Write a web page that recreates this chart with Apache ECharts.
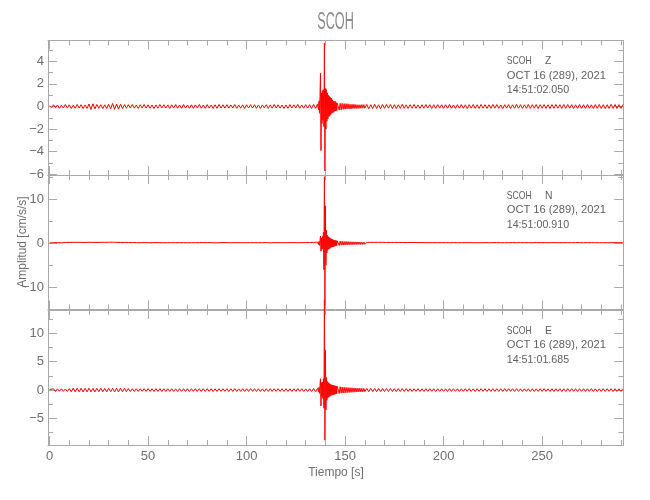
<!DOCTYPE html>
<html><head><meta charset="utf-8">
<script src="https://cdn.jsdelivr.net/npm/echarts@6/dist/echarts.min.js"></script>
<style>html,body{margin:0;padding:0;background:#fff}#c{width:650px;height:500px}</style>
</head><body><div id="c"></div>
<script>
// ---------------- DATA ----------------
const station = 'SCOH';
const components = ['Z', 'N', 'E'];
const dateLabel = 'OCT 16 (289), 2021';
const startTimes = ['14:51:02.050', '14:51:00.910', '14:51:01.685'];
const xLabel = 'Tiempo [s]';
const yLabel = 'Amplitud [cm/s/s]';

// tick values
const xMajor = [0, 50, 100, 150, 200, 250];
const xMinor = [10,20,30,40,60,70,80,90,110,120,130,140,160,170,180,190,210,220,230,240,260,270,280,290];
const zMajor = [-6, -4, -2, 0, 2, 4];
const zMinor = [-5, -3, -1, 1, 3, 5];
const nMajor = [-10, 0, 10];
const nMinor = [-15, -5, 5, 15];
const eMajor = [-5, 0, 5, 10];
const eMinor = [-7.5, -2.5, 2.5, 7.5, 12.5];

// axis extents
const xRange = [-0.8, 291.2];
const zRange = [-6.06, 5.84];
const nRange = [-15.05, 15.5];
const eRange = [-9.67, 14.1];

// sample times [s]
const tPre = [0,1,2,3,4,5,6,7,8,9,10,11,12,13,14,15,16,17,18,19,20,21,22,23,24,25,26,27,28,29,30,31,32,33,34,35,36,37,38,39,40,41,42,43,44,45,46,47,48,49,50,51,52,53,54,55,56,57,58,59,60,61,62,63,64,65,66,67,68,69,70,71,72,73,74,75,76,77,78,79,80,81,82,83,84,85,86,87,88,89,90,91,92,93,94,95,96,97,98,99,100,101,102,103,104,105,106,107,108,109,110,111,112,113,114,115,116,117,118,119,120,121,122,123,124,125,126,127,128,129,130,131,132,133,134,135,136];
const tEvent = [136.5,136.75,137,137.25,137.5,137.75,138,138.25,138.5,138.75,139,139.25,139.5,139.75,140,140.25,140.5,140.75,141,141.25,141.5,141.75,142,142.25,142.5,142.75,143,143.25,143.5,143.75,144,144.25,144.5,144.75,145,145.25,145.5,145.75,146];
const tCoda = [146.5,147,147.5,148,148.5,149,149.5,150,150.5,151,151.5,152,152.5,153,153.5,154,154.5,155,155.5,156,156.5,157,157.5,158,158.5,159,159.5,160];
const tPost = [161,162,163,164,165,166,167,168,169,170,171,172,173,174,175,176,177,178,179,180,181,182,183,184,185,186,187,188,189,190,191,192,193,194,195,196,197,198,199,200,201,202,203,204,205,206,207,208,209,210,211,212,213,214,215,216,217,218,219,220,221,222,223,224,225,226,227,228,229,230,231,232,233,234,235,236,237,238,239,240,241,242,243,244,245,246,247,248,249,250,251,252,253,254,255,256,257,258,259,260,261,262,263,264,265,266,267,268,269,270,271,272,273,274,275,276,277,278,279,280,281,282,283,284,285,286,287,288,289,290,291];

// Z component [cm/s/s]
const zPre = [
0.06,-0.12,0.15,-0.1,0.14,-0.16,0.11,-0.13,0.17,-0.12,
0.15,-0.17,0.12,-0.16,0.18,-0.13,0.16,-0.18,0.14,-0.17,
0.22,-0.26,0.24,-0.21,0.18,-0.16,0.16,-0.18,0.15,-0.17,
0.19,-0.2,0.27,-0.25,0.22,-0.23,0.2,-0.18,0.17,-0.15,
0.16,-0.14,0.18,-0.15,0.13,-0.17,0.15,-0.14,0.18,-0.13,
0.15,-0.16,0.13,-0.18,0.14,-0.15,0.17,-0.13,0.16,-0.14,
0.14,-0.17,0.15,-0.13,0.18,-0.15,0.13,-0.16,0.17,-0.14,
0.13,-0.16,0.15,-0.17,0.14,-0.13,0.18,-0.15,0.13,-0.16,
0.17,-0.14,0.13,-0.17,0.15,-0.16,0.18,-0.13,0.15,-0.14,
0.16,-0.15,0.14,-0.13,0.17,-0.16,0.13,-0.15,0.14,-0.18,
0.15,-0.13,0.17,-0.14,0.16,-0.16,0.13,-0.17,0.14,-0.13,
0.16,-0.17,0.14,-0.15,0.18,-0.13,0.15,-0.14,0.13,-0.17,
0.14,-0.16,0.17,-0.13,0.15,-0.14,0.18,-0.16,0.13,-0.15,
0.17,-0.14,0.16,-0.18,0.19,-0.16,0.22];
const zEvent = [-0.3,0.5,-0.6,0.9,2.95,-3.9,1.2,-1.5,1.4,-1.2,1.5,-1.8,5.6,-5.7,1.6,-2.0,1.5,-1.3,1.2,-1.1,1.0,-0.9,0.9,-0.8,0.8,-0.7,0.75,-0.6,0.6,-0.55,0.5,-0.5,0.45,-0.4,0.45,-0.4,0.35,-0.35,0.3];
const zCoda = [0.3,-0.32,0.28,-0.3,0.27,-0.25,0.26,-0.24,0.25,-0.22,0.24,-0.22,0.2,-0.22,0.2,-0.18,0.2,-0.18,0.17,-0.18,0.16,-0.17,0.15,-0.16,0.17,-0.15,0.16,-0.15];
const zPost = [
0.18,-0.2,0.16,-0.18,0.2,-0.17,0.15,-0.19,0.17,-0.16,
0.18,-0.15,0.17,-0.19,0.16,-0.18,0.15,-0.17,0.19,-0.16,
0.15,-0.17,0.16,-0.15,0.18,-0.16,0.14,-0.17,0.16,-0.15,
0.17,-0.14,0.16,-0.18,0.15,-0.16,0.17,-0.14,0.15,-0.17,
0.16,-0.15,0.18,-0.16,0.14,-0.17,0.16,-0.15,0.17,-0.16,
0.15,-0.18,0.16,-0.14,0.17,-0.16,0.15,-0.17,0.18,-0.15,
0.16,-0.17,0.15,-0.16,0.18,-0.15,0.17,-0.16,0.14,-0.18,
0.16,-0.15,0.17,-0.18,0.15,-0.16,0.18,-0.15,0.16,-0.17,
0.15,-0.16,0.18,-0.17,0.16,-0.15,0.17,-0.18,0.16,-0.15,
0.17,-0.16,0.15,-0.18,0.17,-0.16,0.18,-0.15,0.16,-0.17,
0.18,-0.16,0.17,-0.15,0.16,-0.18,0.15,-0.17,0.18,-0.16,
0.16,-0.17,0.18,-0.16,0.15,-0.18,0.17,-0.16,0.18,-0.17,
0.17,-0.18,0.16,-0.17,0.19,-0.16,0.18,-0.17,0.16,-0.18,
0.17];

// N component [cm/s/s]
const nPre = [
0.05,-0.12,0.15,-0.1,0.13,-0.16,0.11,-0.14,0.17,-0.12,
0.18,-0.15,0.2,-0.17,0.22,-0.16,0.19,-0.21,0.17,-0.2,
0.21,-0.17,0.2,-0.22,0.16,-0.19,0.21,-0.18,0.2,-0.19,
0.22,-0.18,0.23,-0.17,0.2,-0.22,0.17,-0.19,0.16,-0.18,
0.15,-0.13,0.16,-0.12,0.14,-0.15,0.12,-0.14,0.15,-0.11,
0.13,-0.15,0.11,-0.14,0.15,-0.12,0.14,-0.11,0.12,-0.15,
0.12,-0.11,0.15,-0.13,0.11,-0.14,0.15,-0.12,0.13,-0.12,
0.11,-0.14,0.13,-0.15,0.12,-0.11,0.14,-0.13,0.15,-0.12,
0.13,-0.12,0.14,-0.15,0.11,-0.13,0.12,-0.14,0.15,-0.11,
0.14,-0.13,0.12,-0.15,0.14,-0.11,0.13,-0.14,0.12,-0.15,
0.12,-0.14,0.15,-0.11,0.13,-0.14,0.12,-0.15,0.14,-0.12,
0.15,-0.12,0.11,-0.14,0.13,-0.15,0.14,-0.12,0.13,-0.14,
0.12,-0.15,0.14,-0.12,0.15,-0.13,0.12,-0.14,0.15,-0.13,
0.14,-0.12,0.16,-0.17,0.2,-0.22,0.25];
const nEvent = [-0.3,0.4,-0.5,0.6,1.6,-1.8,1.2,-1.4,1.5,-1.3,2.5,-6.0,15.1,-14.0,8.5,-5.0,3.0,-2.2,1.8,-1.6,1.5,-1.3,1.3,-1.2,1.1,-1.0,1.0,-0.9,0.9,-0.85,0.8,-0.75,0.7,-0.7,0.65,-0.6,0.6,-0.55,0.55];
const nCoda = [0.5,-0.5,0.48,-0.45,0.45,-0.42,0.42,-0.4,0.4,-0.38,0.38,-0.35,0.35,-0.33,0.33,-0.32,0.32,-0.3,0.3,-0.3,0.3,-0.28,0.28,-0.28,0.27,-0.26,0.26,-0.25];
const nPost = [
0.22,-0.21,0.2,-0.22,0.19,-0.2,0.21,-0.18,0.2,-0.19,
0.18,-0.19,0.17,-0.18,0.19,-0.16,0.18,-0.17,0.16,-0.18,
0.15,-0.17,0.16,-0.14,0.17,-0.15,0.14,-0.16,0.15,-0.13,
0.14,-0.15,0.13,-0.14,0.15,-0.12,0.14,-0.13,0.15,-0.14,
0.13,-0.15,0.12,-0.14,0.15,-0.13,0.12,-0.14,0.13,-0.12,
0.14,-0.12,0.15,-0.13,0.12,-0.14,0.13,-0.15,0.12,-0.13,
0.15,-0.13,0.12,-0.14,0.14,-0.12,0.15,-0.13,0.12,-0.14,
0.12,-0.14,0.13,-0.12,0.15,-0.14,0.12,-0.13,0.14,-0.15,
0.13,-0.12,0.14,-0.15,0.12,-0.13,0.15,-0.12,0.13,-0.14,
0.14,-0.15,0.12,-0.13,0.14,-0.12,0.13,-0.15,0.12,-0.13,
0.15,-0.12,0.13,-0.14,0.12,-0.15,0.14,-0.13,0.15,-0.12,
0.12,-0.13,0.15,-0.12,0.14,-0.13,0.12,-0.15,0.13,-0.14,
0.13,-0.14,0.12,-0.15,0.13,-0.12,0.14,-0.13,0.12,-0.14,
0.13];

// E component [cm/s/s]
const ePre = [
0.1,-0.2,0.22,-0.24,0.21,-0.2,0.23,-0.22,0.2,-0.24,
0.26,-0.3,0.33,-0.31,0.34,-0.3,0.32,-0.34,0.31,-0.33,
0.34,-0.31,0.3,-0.33,0.32,-0.29,0.33,-0.31,0.3,-0.32,
0.31,-0.3,0.33,-0.34,0.31,-0.33,0.34,-0.31,0.32,-0.3,
0.28,-0.26,0.24,-0.25,0.23,-0.25,0.24,-0.22,0.25,-0.23,
0.25,-0.24,0.23,-0.25,0.24,-0.23,0.25,-0.24,0.23,-0.25,
0.24,-0.23,0.25,-0.24,0.22,-0.25,0.24,-0.23,0.25,-0.22,
0.23,-0.25,0.24,-0.22,0.25,-0.24,0.23,-0.25,0.24,-0.23,
0.25,-0.23,0.24,-0.25,0.22,-0.24,0.25,-0.23,0.24,-0.22,
0.24,-0.25,0.23,-0.24,0.25,-0.23,0.22,-0.24,0.25,-0.23,
0.23,-0.24,0.25,-0.22,0.24,-0.25,0.23,-0.24,0.22,-0.25,
0.24,-0.23,0.25,-0.24,0.23,-0.22,0.25,-0.24,0.23,-0.25,
0.25,-0.24,0.23,-0.25,0.24,-0.23,0.25,-0.22,0.24,-0.25,
0.23,-0.25,0.24,-0.26,0.28,-0.3,0.32];
const eEvent = [-0.3,0.5,-0.6,0.8,2.0,-2.8,1.3,-1.2,1.4,-1.5,2.0,-3.2,15.9,-8.8,7.0,-3.5,2.2,-1.8,1.5,-1.4,1.3,-1.2,1.2,-1.1,1.0,-1.0,0.95,-0.9,0.9,-0.85,0.85,-0.8,0.8,-0.75,0.75,-0.7,0.7,-0.65,0.65];
const eCoda = [0.6,-0.6,0.58,-0.55,0.55,-0.52,0.5,-0.5,0.48,-0.45,0.45,-0.43,0.42,-0.4,0.4,-0.38,0.38,-0.36,0.35,-0.35,0.34,-0.33,0.33,-0.32,0.3,-0.3,0.3,-0.28];
const ePost = [
0.3,-0.29,0.3,-0.28,0.29,-0.28,0.27,-0.29,0.28,-0.27,
0.27,-0.26,0.28,-0.26,0.25,-0.27,0.26,-0.25,0.26,-0.24,
0.25,-0.24,0.23,-0.25,0.24,-0.23,0.25,-0.24,0.22,-0.24,
0.24,-0.23,0.25,-0.22,0.24,-0.25,0.23,-0.22,0.24,-0.23,
0.22,-0.24,0.25,-0.23,0.24,-0.22,0.23,-0.25,0.24,-0.23,
0.25,-0.22,0.24,-0.23,0.22,-0.25,0.24,-0.23,0.25,-0.22,
0.23,-0.25,0.22,-0.24,0.25,-0.23,0.24,-0.22,0.23,-0.25,
0.24,-0.23,0.25,-0.22,0.23,-0.24,0.25,-0.23,0.22,-0.24,
0.23,-0.22,0.24,-0.25,0.23,-0.24,0.22,-0.23,0.25,-0.24,
0.25,-0.23,0.22,-0.24,0.23,-0.25,0.24,-0.22,0.23,-0.24,
0.22,-0.24,0.25,-0.23,0.24,-0.22,0.25,-0.24,0.23,-0.22,
0.24,-0.25,0.23,-0.22,0.25,-0.24,0.23,-0.25,0.22,-0.24,
0.25,-0.23,0.24,-0.22,0.23,-0.25,0.24,-0.23,0.22,-0.24,
0.23];

// ---------------- BUILD ----------------
const times = tPre.concat(tEvent, tCoda, tPost);
const traces = [
  zPre.concat(zEvent, zCoda, zPost),
  nPre.concat(nEvent, nCoda, nPost),
  ePre.concat(eEvent, eCoda, ePost)
];
traces.forEach((v, i) => { if (v.length !== times.length) console.error('length mismatch', components[i], v.length, times.length); });

const yRanges = [zRange, nRange, eRange];
const yMajors = [zMajor, nMajor, eMajor];
const yMinors = [zMinor, nMinor, eMinor];

// layout
const gridLeft = 48, gridRight = 26.7;
const panelTops = [40.5, 175, 310];
const panelHeights = [134.5, 134.5, 135];
const FRAME = '#a9a9a9';
const LABEL = '#6f6f6f';
const NUMFONT = "'Liberation Sans Narrow','Arial Narrow','Liberation Sans',Arial,sans-serif";
const TXTFONT = "'Liberation Sans',Arial,sans-serif";

const grids = [], xAxes = [], yAxes = [], series = [];
components.forEach((c, i) => {
  grids.push({ left: gridLeft, right: gridRight, top: panelTops[i], height: panelHeights[i], containLabel: false, outerBoundsMode: 'none' });
  const showX = i === components.length - 1;
  const mkX = (pos, ticks, len, line, labels) => ({
    type: 'value', gridIndex: i, position: pos, min: xRange[0], max: xRange[1],
    splitLine: { show: false }, minorTick: { show: false },
    axisLine: { show: line, onZero: false, lineStyle: { color: FRAME, width: 1 } },
    axisTick: { show: true, inside: true, length: len, customValues: ticks, lineStyle: { color: FRAME, width: 1 } },
    axisLabel: labels ? { show: true, customValues: xMajor, margin: 5, color: LABEL, fontSize: 13, fontFamily: NUMFONT } : { show: false }
  });
  xAxes.push(mkX('bottom', xMajor, 9, true, showX), mkX('bottom', xMinor, 5, false, false),
             mkX('top', xMajor, 9, true, false), mkX('top', xMinor, 5, false, false));
  const mkY = (pos, ticks, len, line, labels) => ({
    type: 'value', gridIndex: i, position: pos, min: yRanges[i][0], max: yRanges[i][1],
    splitLine: { show: false }, minorTick: { show: false },
    axisLine: { show: line, onZero: false, lineStyle: { color: FRAME, width: 1 } },
    axisTick: { show: true, inside: true, length: len, customValues: ticks, lineStyle: { color: FRAME, width: 1 } },
    axisLabel: labels ? { show: true, customValues: yMajors[i], margin: 4, color: LABEL, fontSize: 13, fontFamily: NUMFONT,
      formatter: v => String(v).replace('-', '\u2212') } : { show: false }
  });
  yAxes.push(mkY('left', yMajors[i], 9, true, true), mkY('left', yMinors[i], 5, false, false),
             mkY('right', yMajors[i], 9, true, false), mkY('right', yMinors[i], 5, false, false));
  series.push({
    type: 'line', name: c, xAxisIndex: 4 * i, yAxisIndex: 4 * i,
    data: times.map((t, k) => [t, traces[i][k]]),
    showSymbol: false, symbol: 'none', clip: false, silent: true,
    lineStyle: { color: '#ff0000', width: 1 }
  });
});

const graphic = [
  { type: 'text', x: 335.5, y: 22.5, scaleX: 0.54,
    style: { text: station, fontSize: 23.5, fontFamily: TXTFONT, fill: '#8a8a8a', align: 'center', verticalAlign: 'middle', textAlign: 'center', textVerticalAlign: 'middle' } },
  { type: 'text', x: 336, y: 473,
    style: { text: xLabel, fontSize: 12, fontFamily: TXTFONT, fill: LABEL, align: 'center', verticalAlign: 'middle', textAlign: 'center', textVerticalAlign: 'middle' } },
  { type: 'text', x: 23, y: 242, rotation: Math.PI / 2,
    style: { text: yLabel, fontSize: 12, fontFamily: TXTFONT, fill: LABEL, align: 'center', verticalAlign: 'middle', textAlign: 'center', textVerticalAlign: 'middle' } }
];
const annOffsets = [20.5, 35, 49.5];
components.forEach((c, i) => {
  const top = panelTops[i];
  const st = (text) => ({ text, fontSize: 11.5, fontFamily: TXTFONT, fill: '#606060', align: 'left', verticalAlign: 'middle', textAlign: 'left', textVerticalAlign: 'middle' });
  graphic.push(
    { type: 'text', x: 506.7, y: top + annOffsets[0], scaleX: 0.75, style: st(station) },
    { type: 'text', x: 545, y: top + annOffsets[0], scaleX: 0.9, style: st(c) },
    { type: 'text', x: 506.7, y: top + annOffsets[1], scaleX: 0.97, style: st(dateLabel) },
    { type: 'text', x: 506.7, y: top + annOffsets[2], scaleX: 0.93, style: st(startTimes[i]) }
  );
});

const chart = echarts.init(document.getElementById('c'), null, { renderer: 'canvas' });
chart.setOption({
  animation: false,
  backgroundColor: '#ffffff',
  grid: grids, xAxis: xAxes, yAxis: yAxes, series, graphic
});
</script>
</body></html>
